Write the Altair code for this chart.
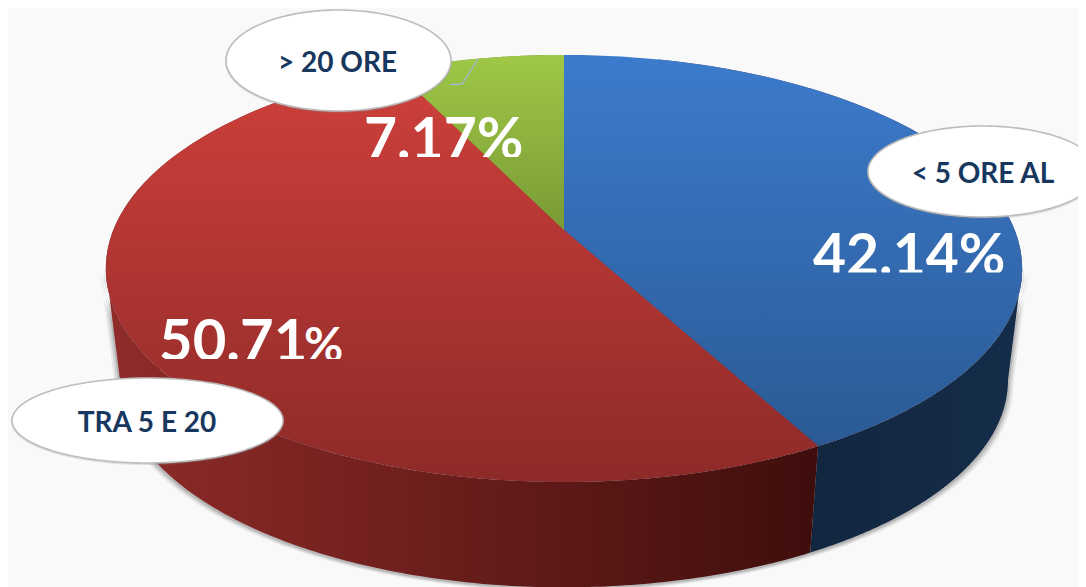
import numpy as np
import pandas as pd
import altair as alt

# --- chart values
categories = ["< 5 ORE AL", "TRA 5 E 20", "> 20 ORE"]
shares = [42.14, 50.71, 7.17]

# --- canvas (the page adds an 8px margin, so positions are reference px - 8)
W, H = 1070, 579
OFF = 8
BG = "#f9f9f9"

# --- perspective pie geometry
AX, AY = 564 - OFF, 230 - OFF   # image of the pie's centre
A, B, K = 450.7, 206.6, 0.18    # projective circle -> ellipse
ECY = 268 - OFF                 # centre of the top ellipse on screen
BCY = 380 - OFF                 # centre of the base ellipse
BS = 0.969                      # base is slightly smaller

def top_pt(t):
    u, v = np.sin(t), np.cos(t)
    d = 1 + K * v
    return AX + A * u / d, AY - B * v / d

def base_pt(t):
    x, y = top_pt(t)
    return AX + BS * (x - AX), BCY + BS * (y - ECY)

total = sum(shares)
edges = np.cumsum([0] + shares) / total * 2 * np.pi

# silhouette tangents: the walls only show between these two angles
_tt = np.linspace(0, 2 * np.pi, 2000)
_sx = top_pt(_tt)[0]
T_RIGHT = _tt[np.argmax(_sx)]
T_LEFT = _tt[np.argmin(_sx)]

def vgrad(c0, c1):
    return {"gradient": "linear", "x1": 0, "y1": 0, "x2": 0, "y2": 1,
            "stops": [{"offset": 0, "color": c0}, {"offset": 1, "color": c1}]}

def hgrad(stops):
    return {"gradient": "linear", "x1": 0, "y1": 0, "x2": 1, "y2": 0,
            "stops": [{"offset": o, "color": c} for o, c in stops]}

xs = alt.Scale(domain=[0, W], range=[0, W], nice=False, zero=False)
ys = alt.Scale(domain=[0, H], range=[0, H], nice=False, zero=False)

def poly(px, py, **mark):
    df = pd.DataFrame({"x": px, "y": py, "i": range(len(px))})
    return alt.Chart(df).mark_line(**mark).encode(
        x=alt.X("x:Q", scale=xs, axis=None),
        y=alt.Y("y:Q", scale=ys, axis=None),
        order="i:Q",
    )

def filled(px, py, fill, **kw):
    px = list(px) + [px[0]]
    py = list(py) + [py[0]]
    return poly(px, py, fill=fill, strokeOpacity=0, strokeWidth=0, **kw)

layers = []

# soft shadow round the side wall
ft = np.linspace(T_RIGHT, T_LEFT, 240)
fx, fy = top_pt(ft)
gx, gy = base_pt(ft)
shx = np.concatenate([fx, gx[::-1]])
shy = np.concatenate([fy, gy[::-1]])
for grow, dy, op in [(1.012, 4, 0.10), (1.008, 3, 0.14), (1.004, 2, 0.22)]:
    layers.append(filled(AX + grow * (shx - AX), dy + shy, "#555555", fillOpacity=op))

# walls
wall_fill = [
    hgrad([(0, "#12263f"), (1, "#152d4a")]),
    hgrad([(0, "#8f2c29"), (0.4, "#71201e"), (1, "#3e0e0c")]),
]
wall_range = [(T_RIGHT, edges[1]), (edges[1], T_LEFT)]
for i in range(2):
    t = np.linspace(wall_range[i][0], wall_range[i][1], 160)
    tx, ty = top_pt(t)
    qx, qy = base_pt(t)
    layers.append(filled(list(tx) + list(qx[::-1]), list(ty) + list(qy[::-1]), wall_fill[i]))

# top faces, on a dark underlay so no light seam shows between the slices
top_fill = [
    vgrad("#3c7bcc", "#2b5a95"),
    vgrad("#cf403b", "#8d2a28"),
    vgrad("#9fc846", "#7a9a36"),
]
ux, uy = top_pt(np.linspace(edges[0] + 0.25, edges[2] + 0.05, 120))
layers.append(filled([AX] + list(ux), [AY] + list(uy), "#5a3a50"))
ux, uy = top_pt(np.linspace(edges[2] - 0.05, edges[3], 60))
layers.append(filled([AX] + list(ux), [AY] + list(uy), "#6f8f35"))

slices = []
for i in range(3):
    t = np.linspace(edges[i], edges[i + 1], 160)
    tx, ty = top_pt(t)
    sx, sy = [AX] + list(tx), [AY] + list(ty)
    slices.append((sx, sy))
    layers.append(filled(sx, sy, top_fill[i]))

# percentage labels
def txt(s, x, y, size, color, align="left", weight="bold", base="alphabetic"):
    df = pd.DataFrame({"t": [s], "x": [x - OFF], "y": [y - OFF]})
    return alt.Chart(df).mark_text(
        font="Lato", fontSize=size, fontWeight=weight, color=color,
        align=align, baseline=base,
    ).encode(x=alt.X("x:Q", scale=xs, axis=None),
             y=alt.Y("y:Q", scale=ys, axis=None), text="t:N")

layers.append(txt(f"{shares[0]:.2f}%", 813, 275, 57, "white"))
layers.append(txt(f"{shares[1]:.2f}", 159, 361, 58, "white"))
layers.append(txt("%", 304, 362, 48, "white"))
layers.append(txt(f"{shares[2]:.2f}%", 364, 159, 57, "white"))

# the labels are cut off at the foot: re-lay the slice colour over the cut
def clip(px, py, x0, x1, y0, y1):
    pts = list(zip(px, py))
    def run(pts, inside, cross):
        out = []
        for a, b in zip(pts, pts[1:] + pts[:1]):
            ia, ib = inside(a), inside(b)
            if ia:
                out.append(a)
            if ia != ib:
                out.append(cross(a, b))
        return out
    def cx(v):
        return lambda a, b: (v, a[1] + (b[1] - a[1]) * (v - a[0]) / (b[0] - a[0]))
    def cy(v):
        return lambda a, b: (a[0] + (b[0] - a[0]) * (v - a[1]) / (b[1] - a[1]), v)
    for ins, cr in [(lambda p: p[0] >= x0, cx(x0)), (lambda p: p[0] <= x1, cx(x1)),
                    (lambda p: p[1] >= y0, cy(y0)), (lambda p: p[1] <= y1, cy(y1))]:
        if pts:
            pts = run(pts, ins, cr)
    return pts

def mix(c0, c1, f):
    a = [int(c0[i:i + 2], 16) for i in (1, 3, 5)]
    b = [int(c1[i:i + 2], 16) for i in (1, 3, 5)]
    return "#%02x%02x%02x" % tuple(int(round(p + (q - p) * f)) for p, q in zip(a, b))

cuts = [(805, 1012, 272.5 - OFF), (155, 350, 359 - OFF), (360, 530, 157 - OFF)]
for x0, x1, yc in cuts:
    for i, (sx, sy) in enumerate(slices):
        pts = clip(sx, sy, x0 - OFF, x1 - OFF, yc, yc + 10)
        if len(pts) > 2:
            g = top_fill[i]["stops"]
            f = (yc + 5 - min(sy)) / (max(sy) - min(sy))
            layers.append(filled([p[0] for p in pts], [p[1] for p in pts],
                                 mix(g[0]["color"], g[1]["color"], f)))

# small leader line
layers.append(poly([450 - OFF, 462 - OFF, 478 - OFF], [84.3 - OFF, 84.3 - OFF, 59 - OFF],
                   stroke="#9db9dc", strokeWidth=1.2))

# callout ellipses
callouts = [(983, 171.5, 115, 45.5), (147.5, 420.5, 135.5, 42.5), (338.5, 60.5, 112.5, 50.5)]
label_pos = [(983, 175), (147, 424), (337.5, 64)]
et = np.linspace(0, 2 * np.pi, 180)
for (cx_, cy_, rx, ry), name, (lx, ly) in zip(callouts, categories, label_pos):
    ex = cx_ - OFF + rx * np.cos(et)
    ey = cy_ - OFF + ry * np.sin(et)
    layers.append(poly(ex, ey + 1, stroke="#888888", strokeWidth=2, strokeOpacity=0.25, clip=True))
    layers.append(poly(ex, ey, fill="#ffffff", stroke="#bdbdbd", strokeWidth=1.6, clip=True))
    layers.append(txt(name, lx, ly, 28, "#17375e", align="center", base="middle"))

chart = alt.layer(*layers).properties(
    width=W, height=H, background=BG, padding=0,
    autosize=alt.AutoSizeParams(type="none"),
).configure_view(stroke=None)

chart.save("out.html", embed_options={"renderer": "svg", "actions": False})
